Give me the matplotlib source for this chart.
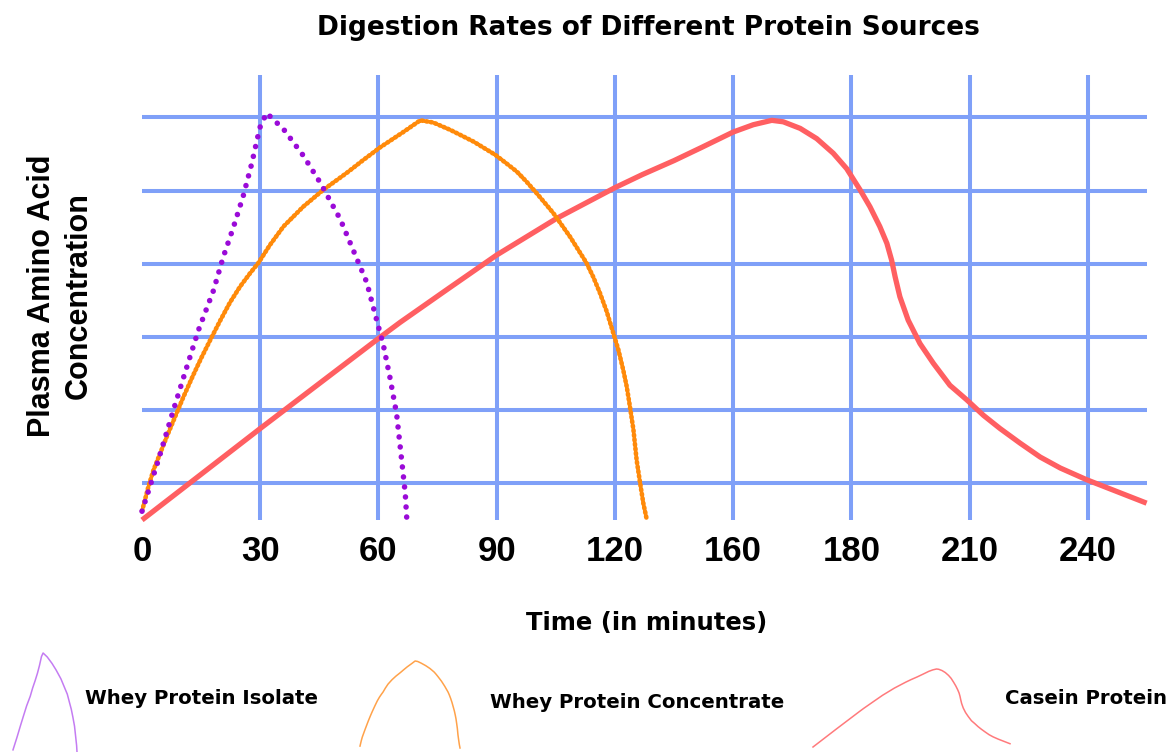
import numpy as np
import matplotlib
matplotlib.use('Agg')
import matplotlib.pyplot as plt

### data (time in minutes, concentration in grid units)
isolate_t = [0, 4.1, 7.9, 10.9, 14.3, 18.1, 20.6, 23.2, 25.7, 27.8, 29.9, 31.6, 35.9, 40.9,
             45.2, 50.3, 54.5, 57.0, 59.6, 61.2, 62.9, 64.6, 65.9, 66.8, 67.2]
isolate_v = [0.12, 0.81, 1.49, 2.01, 2.59, 3.13, 3.59, 4.00, 4.43, 4.86, 5.36, 5.56, 5.34, 4.98,
             4.61, 4.11, 3.57, 3.25, 2.72, 2.40, 1.95, 1.45, 0.81, 0.36, 0.0]

concentrate_t = [0, 1.6, 2.9, 4.6, 6.3, 8.4, 10.5, 13.0, 15.1, 17.7, 19.8, 22.3, 24.9, 27.4,
                 29.5, 32.5, 35.9, 40.9, 46.0, 51.9, 56.2, 60.4, 66.3, 70.6, 73.9, 78.2, 84.1,
                 89.6, 92.5, 95.1, 97.6, 100.2, 102.7, 104.4, 106.5, 108.6, 110.7, 112.8, 114.5,
                 116.2, 117.9, 119.6, 120.9, 122.1, 123.0, 123.8, 124.7, 125.5, 126.4, 127.2, 128.1]
concentrate_v = [0.12, 0.45, 0.68, 0.91, 1.14, 1.41, 1.68, 1.98, 2.22, 2.50, 2.72, 2.97, 3.19, 3.37,
                 3.51, 3.76, 4.01, 4.28, 4.51, 4.74, 4.92, 5.09, 5.30, 5.46, 5.43, 5.33, 5.17,
                 4.99, 4.87, 4.76, 4.62, 4.46, 4.30, 4.19, 4.03, 3.87, 3.69, 3.51, 3.32,
                 3.10, 2.85, 2.55, 2.32, 2.05, 1.82, 1.55, 1.23, 0.82, 0.50, 0.23, 0.0]

casein_t = [0, 30, 60, 65.5, 77.7, 90, 105.2, 120, 127, 135, 142, 150, 155.1, 159.8, 162.7,
            167.0, 171.2, 175.4, 178.8, 182.2, 184.7, 187.2, 189.0, 190.2, 191.1, 192.3, 194.4,
            197.4, 200.8, 205.0, 209.3, 213.5, 217.7, 222.8, 227.9, 233.0, 239.7, 247.3, 254.9]
casein_v = [0.0, 1.25, 2.48, 2.70, 3.16, 3.62, 4.12, 4.54, 4.72, 4.91, 5.09, 5.30, 5.40, 5.46, 5.44,
            5.35, 5.21, 5.01, 4.80, 4.51, 4.28, 4.01, 3.78, 3.55, 3.32, 3.05, 2.73,
            2.41, 2.14, 1.84, 1.64, 1.43, 1.25, 1.05, 0.86, 0.71, 0.55, 0.39, 0.23]

time_ticks = [0, 30, 60, 90, 120, 150, 180, 210, 240]
time_labels = ['0', '30', '60', '90', '120', '160', '180', '210', '240']
level_ticks = [0.5, 1.5, 2.5, 3.5, 4.5, 5.5]

series_names = ['Whey Protein Isolate', 'Whey Protein Concentrate', 'Casein Protein']

### style
c_isolate = '#9a0ad8'
c_concentrate = '#ff8a0a'
c_casein = '#ff5f62'
c_grid = '#7fa0f8'
W, H = 1172, 752


def fx(u_px):  # pixel -> figure fraction (x)
    return u_px / W


def fy(u_px):  # pixel from top -> figure fraction (y)
    return 1 - u_px / H


fig = plt.figure(figsize=(W / 100, H / 100), dpi=100)
fig.patch.set_facecolor('white')

ax = fig.add_axes([fx(142), fy(520), fx(1147) - fx(142), fy(75) - fy(520)])
ax.set_xlim(0, 255)
ax.set_ylim(0, (520 - 75) / 73.2)
for s in ax.spines.values():
    s.set_visible(False)

ax.set_xticks(time_ticks)
ax.set_xticklabels(time_labels, fontsize=25, fontweight='bold', family=['Liberation Sans', 'DejaVu Sans'])
ax.set_yticks(level_ticks)
ax.set_yticklabels([])
ax.tick_params(axis='both', length=0)
ax.tick_params(axis='x', pad=11)
ax.set_axisbelow(True)
ax.grid(True, color=c_grid, linewidth=2.9)
ax.xaxis.majorTicks[0].gridline.set_visible(False)  # no grid line at 0

ax.plot(casein_t, casein_v, color=c_casein, lw=3.8, solid_capstyle='butt',
        solid_joinstyle='round', clip_on=False, zorder=3)
ax.plot(concentrate_t, concentrate_v, color=c_concentrate, lw=3.3, linestyle=(0, (0.3, 0.7)),
        dash_capstyle='round', clip_on=False, zorder=4)
ax.plot(isolate_t, isolate_v, color=c_isolate, lw=4.0, linestyle=(0, (0.01, 1.8)),
        dash_capstyle='round', clip_on=False, zorder=5)

# titles / labels
fig.text(fx(648), fy(28), 'Digestion Rates of Different Protein Sources',
         ha='center', va='center', fontsize=19, fontweight='heavy')
fig.text(fx(647), fy(623), 'Time (in minutes)', ha='center', va='center',
         fontsize=17.5, fontweight='bold')
fig.text(fx(60), fy(296), 'Plasma Amino Acid\nConcentration', rotation=90,
         ha='center', va='center', multialignment='center', linespacing=1.3,
         fontsize=22, fontweight='bold', family=['Liberation Sans', 'DejaVu Sans'])

# legend: small copies of each curve with a label next to it
legend_boxes = [(13, 653, 77, 752), (360, 661, 460, 748), (813, 669, 1010, 747)]
legend_text_pos = [(85, 698), (490, 702), (1005, 699)]
legend_colors = ['#c47cf2', '#ffa24a', '#ff7a7c']
legend_data = [(isolate_t, isolate_v), (concentrate_t, concentrate_v), (casein_t, casein_v)]

for (x0, y0, x1, y1), (tx, ty), col, (u_t, u_v), name in zip(
        legend_boxes, legend_text_pos, legend_colors, legend_data, series_names):
    lax = fig.add_axes([fx(x0), fy(y1), fx(x1) - fx(x0), fy(y0) - fy(y1)])
    lax.plot(u_t, u_v, color=col, lw=1.1, clip_on=False)
    lax.set_xlim(0, max(u_t))
    lax.set_ylim(0, max(u_v))
    lax.axis('off')
    fig.text(fx(tx), fy(ty), name, ha='left', va='center', fontsize=14.2, fontweight='bold')

plt.savefig('out.png', dpi=100, facecolor='white')
